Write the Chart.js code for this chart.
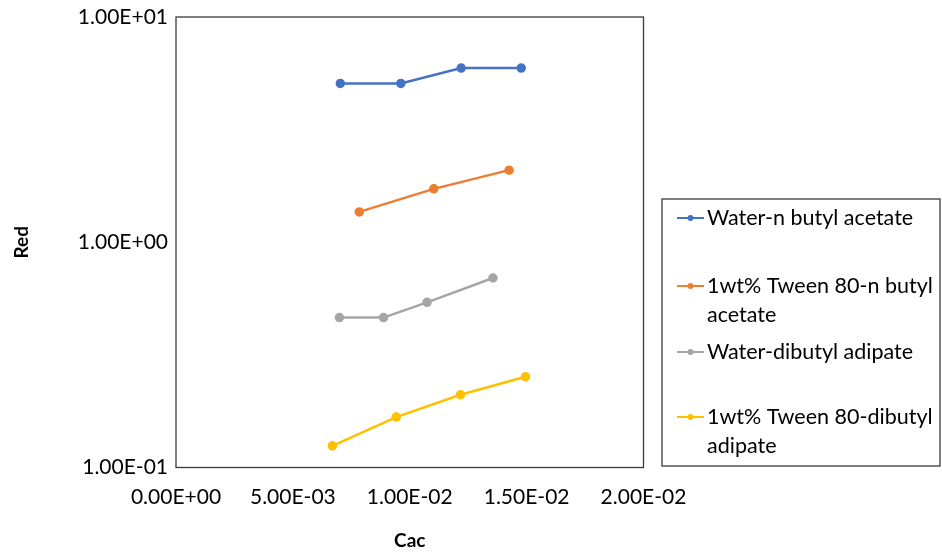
<!DOCTYPE html>
<html>
<head>
<meta charset="utf-8">
<script src="https://cdn.jsdelivr.net/npm/chart.js@4"></script>
<style>
  html, body { margin: 0; padding: 0; background: #fff; }
  #wrap { width: 942px; height: 556px; }
</style>
</head>
<body>
<div id="wrap"><canvas id="cacChart"></canvas></div>
<script>
// values
const seriesNames = [
  "Water-n butyl acetate",
  "1wt% Tween 80-n butyl acetate",
  "Water-dibutyl adipate",
  "1wt% Tween 80-dibutyl adipate"
];
const waterButylX = [0.00703, 0.00962, 0.0122, 0.01477];
const waterButylY = [5.07, 5.07, 5.93, 5.93];
const tweenButylX = [0.00784, 0.01103, 0.01425];
const tweenButylY = [1.364, 1.726, 2.09];
const waterAdipateX = [0.00699, 0.00888, 0.01074, 0.01356];
const waterAdipateY = [0.463, 0.463, 0.541, 0.694];
const tweenAdipateX = [0.00669, 0.00942, 0.01217, 0.01495];
const tweenAdipateY = [0.1248, 0.1674, 0.2104, 0.253];
const colors = ["#4472C4", "#ED7D31", "#A5A5A5", "#FFC000"];
const legendLines = [
  ["Water-n butyl acetate"],
  ["1wt% Tween 80-n butyl", "acetate"],
  ["Water-dibutyl adipate"],
  ["1wt% Tween 80-dibutyl", "adipate"]
];

const FONT = "Lato, 'Liberation Sans', sans-serif";

function sci(v) {
  const [m, e] = Number(v).toExponential(2).split("e");
  const n = Math.abs(parseInt(e));
  return m + "E" + (e[0] === "-" ? "-" : "+") + String(n).padStart(2, "0");
}

function pts(xs, ys) {
  return xs.map((x, i) => ({ x: x, y: ys[i] }));
}

const allX = [waterButylX, tweenButylX, waterAdipateX, tweenAdipateX];
const allY = [waterButylY, tweenButylY, waterAdipateY, tweenAdipateY];

// plot frame + boxed legend on the right
const framePlugin = {
  id: "frame",
  afterDraw(chart) {
    const { ctx, chartArea: a } = chart;
    ctx.save();
    ctx.strokeStyle = "#3a3a3a";
    ctx.lineWidth = 1.3;
    ctx.strokeRect(a.left, a.top, a.right - a.left, a.bottom - a.top);

    // legend box
    const bx = 662, by = 199, bw = 278, bh = 267;
    ctx.strokeRect(bx, by, bw, bh);
    const rowY = [218, 286, 352, 417];
    ctx.font = "21.5px " + FONT;
    ctx.textBaseline = "middle";
    ctx.textAlign = "left";
    legendLines.forEach((lines, i) => {
      const y = rowY[i];
      ctx.strokeStyle = colors[i];
      ctx.lineWidth = 2;
      ctx.beginPath();
      ctx.moveTo(677, y);
      ctx.lineTo(704, y);
      ctx.stroke();
      ctx.fillStyle = colors[i];
      ctx.beginPath();
      ctx.arc(690.5, y, 3, 0, Math.PI * 2);
      ctx.fill();
      ctx.fillStyle = "#000";
      lines.forEach((t, j) => ctx.fillText(t, 707, y + j * 29));
    });
    ctx.restore();
  }
};

new Chart(document.getElementById("cacChart"), {
  type: "line",
  data: {
    datasets: seriesNames.map((name, i) => ({
      label: name,
      data: pts(allX[i], allY[i]),
      borderColor: colors[i],
      backgroundColor: colors[i],
      borderWidth: 2.5,
      pointRadius: 3.5,
      pointHoverRadius: 3.5,
      tension: 0,
      fill: false
    }))
  },
  options: {
    responsive: true,
    maintainAspectRatio: false,
    animation: false,
    layout: { padding: { left: 10, top: 17, right: 298.5, bottom: 4 } },
    plugins: {
      legend: { display: false },
      tooltip: { enabled: false }
    },
    scales: {
      x: {
        type: "linear",
        min: 0,
        max: 0.02,
        grid: { display: false, drawTicks: false },
        border: { display: false },
        ticks: {
          stepSize: 0.005,
          padding: 17,
          color: "#000",
          font: { family: FONT, size: 21 },
          maxRotation: 0,
          callback: (v) => sci(v)
        },
        title: {
          display: true,
          text: "Cac",
          color: "#000",
          font: { family: FONT, size: 19, weight: "bold" },
          padding: { top: 0, bottom: 0 }
        },
        afterFit: (s) => { s.height = 556 - 4 - 467.5; }
      },
      y: {
        type: "logarithmic",
        min: 0.1,
        max: 10,
        grid: { display: false, drawTicks: false },
        border: { display: false },
        ticks: {
          autoSkip: false,
          padding: 8,
          color: "#000",
          font: { family: FONT, size: 21 },
          callback: (v) => {
            const l = Math.log10(v);
            return Math.abs(l - Math.round(l)) < 1e-9 ? sci(v) : "";
          }
        },
        title: {
          display: true,
          text: "Red",
          color: "#000",
          font: { family: FONT, size: 19, weight: "bold" },
          padding: { top: 0, bottom: 0 }
        },
        afterFit: (s) => {
          s.width = 176 - 10;
          s.paddingTop = 0;
          s.paddingBottom = 0;
        }
      }
    }
  },
  plugins: [framePlugin]
});
</script>
</body>
</html>
